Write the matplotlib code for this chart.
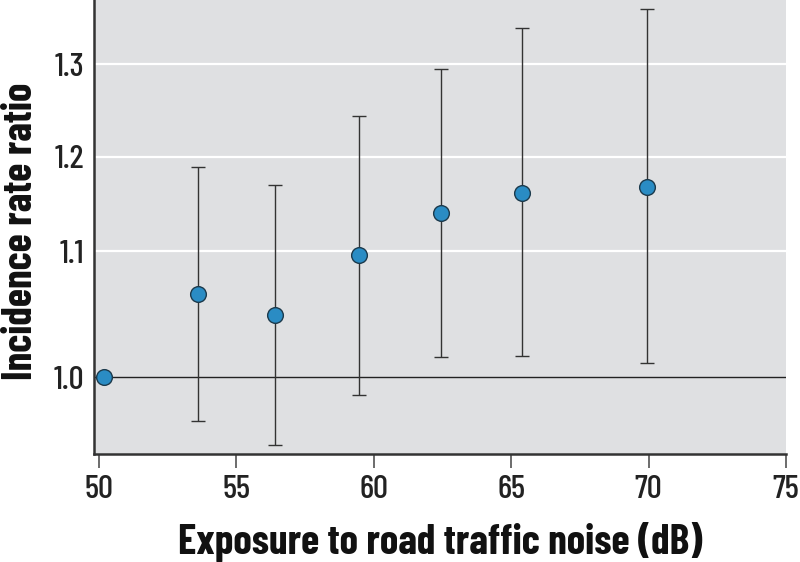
import numpy as np
import matplotlib
matplotlib.use("Agg")
import matplotlib.pyplot as plt

# Data
noise_db = [50.19, 53.62, 56.41, 59.47, 62.45, 65.40, 69.93]
irr      = [1.000, 1.066, 1.0495, 1.097, 1.1404, 1.1622, 1.1685]
ci_low   = [1.000, 0.9655, 0.9464, 0.986, 1.0161, 1.0172, 1.0116]
ci_high  = [1.000, 1.189, 1.1706, 1.2443, 1.2948, 1.3395, 1.3597]
y_ticks  = [1.0, 1.1, 1.2, 1.3]
y_tick_labels = ["1.0", "1.1", "1.2", "1.3"]
x_ticks  = [50, 55, 60, 65, 70, 75]

# Non-uniform axis scale as drawn in the reference (piecewise linear)
_vals = np.array([0.8, 0.9, 1.0, 1.1, 1.2, 1.3, 1.4, 1.5])
_pos  = np.array([-251.6, -125.8, 0.0, 125.8, 220.4, 312.8, 405.2, 497.6])

def fwd(v):
    return np.interp(v, _vals, _pos)

def inv(p):
    return np.interp(p, _pos, _vals)

plt.rcParams["font.family"] = ["Barlow Condensed", "DejaVu Sans"]

fig = plt.figure(figsize=(8, 5.62), dpi=100)
ax = fig.add_axes([0.1169, 0.1922, 0.8656, 0.8078])
ax.set_facecolor("#dfe0e2")
ax.set_yscale("function", functions=(fwd, inv))

ax.set_xlim(49.81, 75)
ax.set_ylim(0.939, 1.3698)

for yt in y_ticks[1:]:
    ax.axhline(yt, color="white", lw=1.6, zorder=1)
ax.axhline(1.0, color="#222222", lw=1.0, zorder=2)

irr_a = np.array(irr)
yerr = np.vstack([irr_a - np.array(ci_low), np.array(ci_high) - irr_a])
ax.errorbar(noise_db, irr, yerr=yerr, fmt="none", ecolor="#333333",
            elinewidth=1.0, capsize=5, capthick=1.0, zorder=3)
ax.plot(noise_db, irr, "o", ms=11.3, mfc="#2a8cc4", mec="#1c3a4c",
        mew=1.0, zorder=4, clip_on=False)

ax.set_xticks(x_ticks)
ax.set_xticklabels([str(x) for x in x_ticks])
ax.set_yticks(y_ticks)
ax.set_yticklabels(y_tick_labels)
ax.yaxis.set_minor_locator(matplotlib.ticker.NullLocator())

ax.tick_params(axis="x", direction="out", length=10, width=1.1,
               color="#444444", labelsize=24, pad=5, labelcolor="#222222")
ax.tick_params(axis="y", length=0, labelsize=24, pad=6.5, labelcolor="#222222")
for lbl in ax.get_xticklabels() + ax.get_yticklabels():
    lbl.set_fontweight("medium")

for s in ["top", "right"]:
    ax.spines[s].set_visible(False)
for s in ["left", "bottom"]:
    ax.spines[s].set_color("#333333")
    ax.spines[s].set_linewidth(1.8)

ax.set_xlabel("Exposure to road traffic noise (dB)", fontsize=30,
              fontweight="bold", labelpad=13, color="#111111")
ax.set_ylabel("Incidence rate ratio", fontsize=30, fontweight="bold",
              color="#111111")
ax.yaxis.set_label_coords(-0.077, 0.49)

fig.savefig("out.png", dpi=100)
